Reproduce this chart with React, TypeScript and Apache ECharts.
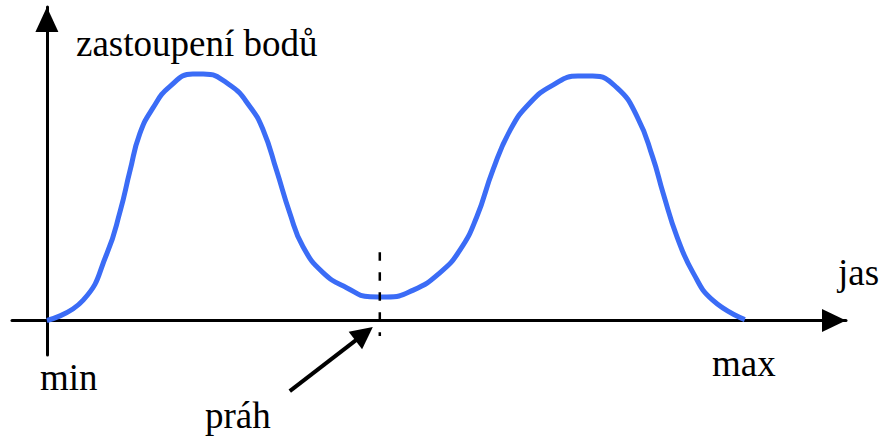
import React, { useEffect, useRef } from "react";
import * as echarts from "echarts";

// brightness (x) from min = 0 to max = 100
const brightness = [
  0, 5.2, 8.6, 10.5, 11.9, 13.3, 15.2, 17.6, 20.9, 22.4, 26.2, 29.1, 31.0, 32.9,
  34.8, 36.7, 39.6, 43.0, 46.3, 48.7, 52.5, 56.3, 59.2, 61.6, 63.9, 66.4, 69.2,
  72.5, 76.1, 78.2, 81.7, 84.6, 86.8, 88.3, 90.3, 92.6, 95.4, 100,
];
// number of pixels (y)
const pixelCount = [
  0, 6.5, 21.4, 34.9, 47.7, 59.5, 67.8, 74.6, 78.6, 78.6, 75.1, 68.2, 60.7, 47.9,
  34.3, 23.5, 15.2, 10.4, 7.6, 7.5, 9.7, 15.2, 22.5, 33.1, 48.0, 60.8, 69.4,
  75.1, 78.0, 78.0, 74.2, 64.9, 52.1, 40.6, 26.6, 15.2, 6.5, 0.3,
];
// threshold dashed line: [x, yTop, yBottom]
const thresholdLine = [[47.7, 21.8, -4.9]];
// arrow pointing at threshold: [xTail, yTail, xTip, yTip]
const thresholdArrow = [[34.8, -22.5, 46.7, -2.1]];

const yAxisTitle = "zastoupení bodů";
const xAxisTitle = "jas";
const minLabel = "min";
const maxLabel = "max";
const thresholdLabel = "práh";

export default function App() {
  const ref = useRef<HTMLDivElement>(null);

  useEffect(() => {
    const chart = echarts.init(ref.current as HTMLDivElement, null, { renderer: "svg" });
    const textEl = (text: string, x: number, y: number) => ({
      type: "text",
      x,
      y,
      style: {
        text,
        fontSize: 37,
        fontFamily: "Liberation Serif",
        fill: "#000",
      },
    });

    chart.setOption({
      animation: false,
      backgroundColor: "#ffffff",
      grid: { left: 12, right: 40, top: 7, bottom: 82, containLabel: false },
      xAxis: {
        type: "value",
        min: -5,
        max: 114.5,
        axisLine: {
          show: true,
          onZero: true,
          symbol: ["none", "triangle"],
          symbolSize: [23, 24],
          symbolOffset: [0, -12],
          lineStyle: { color: "#000", width: 3 },
        },
        axisTick: { show: false },
        axisLabel: { show: false },
        splitLine: { show: false },
      },
      yAxis: {
        type: "value",
        min: -11,
        max: 100,
        axisLine: {
          show: true,
          onZero: true,
          symbol: ["none", "triangle"],
          symbolSize: [23, 25],
          symbolOffset: [0, -12.5],
          lineStyle: { color: "#000", width: 3 },
        },
        axisTick: { show: false },
        axisLabel: { show: false },
        splitLine: { show: false },
      },
      series: [
        {
          type: "line",
          data: brightness.map((x, i) => [x, pixelCount[i]]),
          smooth: 0.5,
          showSymbol: false,
          symbol: "none",
          silent: true,
          lineStyle: { color: "#3b6cf6", width: 5 },
          itemStyle: { color: "#3b6cf6" },
          z: 3,
        },
        {
          type: "custom",
          clip: false,
          silent: true,
          data: thresholdLine,
          z: 4,
          renderItem: (_params: any, api: any) => {
            const a = api.coord([api.value(0), api.value(1)]);
            const b = api.coord([api.value(0), api.value(2)]);
            return {
              type: "line",
              shape: { x1: a[0], y1: a[1], x2: b[0], y2: b[1] },
              style: { stroke: "#000", lineWidth: 2.5, lineDash: [8.5, 11.5], fill: null },
            };
          },
        },
        {
          type: "custom",
          clip: false,
          silent: true,
          data: thresholdArrow,
          z: 4,
          renderItem: (_params: any, api: any) => {
            const p = api.coord([api.value(0), api.value(1)]);
            const q = api.coord([api.value(2), api.value(3)]);
            const dx = q[0] - p[0];
            const dy = q[1] - p[1];
            const len = Math.sqrt(dx * dx + dy * dy);
            const ux = dx / len;
            const uy = dy / len;
            const headLen = 22;
            const halfW = 11;
            const bx = q[0] - ux * headLen;
            const by = q[1] - uy * headLen;
            return {
              type: "group",
              children: [
                {
                  type: "line",
                  shape: { x1: p[0], y1: p[1], x2: bx + ux * 2, y2: by + uy * 2 },
                  style: { stroke: "#000", lineWidth: 4, fill: null },
                },
                {
                  type: "polygon",
                  shape: {
                    points: [
                      [q[0], q[1]],
                      [bx - uy * halfW, by + ux * halfW],
                      [bx + uy * halfW, by - ux * halfW],
                    ],
                  },
                  style: { fill: "#000", stroke: null },
                },
              ],
            };
          },
        },
      ],
      graphic: [
        textEl(yAxisTitle, 76, 24.5),
        textEl(xAxisTitle, 838, 254),
        textEl(minLabel, 40, 358.5),
        textEl(maxLabel, 712, 345),
        textEl(thresholdLabel, 205, 397),
      ],
    });

    return () => chart.dispose();
  }, []);

  return (
    <div
      ref={ref}
      style={{ position: "absolute", left: 0, top: 0, width: 886, height: 437 }}
    />
  );
}
